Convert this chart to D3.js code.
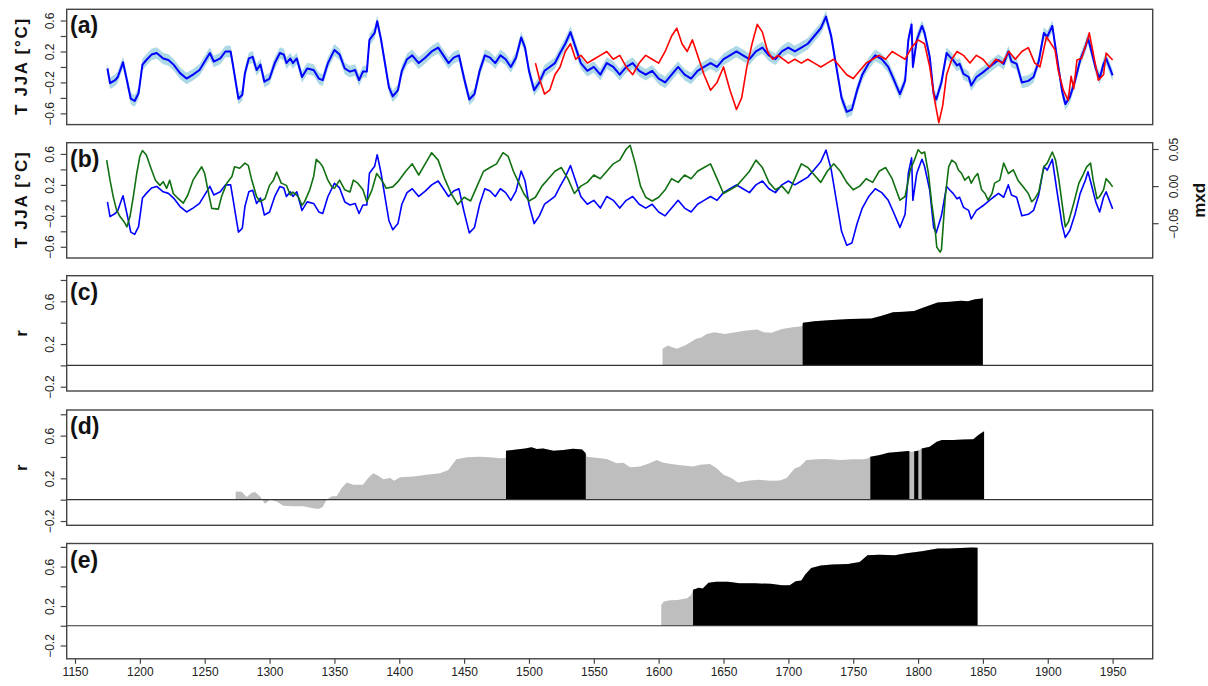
<!DOCTYPE html>
<html>
<head>
<meta charset="utf-8">
<script src="https://cdn.jsdelivr.net/npm/d3@7"></script>
<style>
  body { margin: 0; background: #fff; }
  svg { display: block; }
  text { font-family: "Liberation Sans", Arial, Helvetica, sans-serif; }
</style>
</head>
<body>
<div id="chart"></div>
<script>
// ---- values ----
const yearTicks = [1150, 1200, 1250, 1300, 1350, 1400, 1450, 1500, 1550, 1600, 1650, 1700, 1750, 1800, 1850, 1900, 1950]
const tempTicks = [-0.6, -0.4, -0.2, 0, 0.2, 0.4, 0.6]
const tempLabels = [-0.6, -0.2, 0.2, 0.6]
const rTicks = [-0.2, 0, 0.2, 0.4, 0.6, 0.8]
const rLabels = [-0.2, 0.2, 0.6]
const mxdTicks = [-0.05, 0, 0.05]

// blue: reconstructed JJA temperature (same curve in a and b)
const reconT = [
  [1175,-0.02],[1177,-0.21],[1181,-0.17],[1183,-0.13],[1187,0.06],[1190,-0.17],[1193,-0.41],[1196,-0.44],[1199,-0.34],
  [1202,0.03],[1205,0.09],[1209,0.16],[1213,0.18],[1218,0.11],[1222,0.09],[1226,0.03],[1231,-0.08],[1236,-0.15],
  [1241,-0.10],[1246,-0.04],[1250,0.07],[1254,0.18],[1257,0.07],[1262,0.11],[1266,0.20],[1270,0.20],[1272,0.00],
  [1276,-0.41],[1279,-0.36],[1281,-0.08],[1284,0.11],[1287,0.13],[1290,-0.04],[1293,0.03],[1296,-0.19],[1300,-0.15],
  [1304,0.05],[1308,0.18],[1311,0.16],[1313,0.05],[1316,0.11],[1318,0.05],[1321,0.11],[1325,-0.13],[1329,-0.02],
  [1334,-0.04],[1338,-0.15],[1341,-0.17],[1345,0.05],[1350,0.22],[1354,0.16],[1358,-0.02],[1362,-0.06],[1366,-0.04],
  [1369,-0.17],[1372,-0.06],[1375,-0.06],[1377,0.35],[1381,0.44],[1383,0.59],[1386,0.35],[1392,-0.26],[1395,-0.38],
  [1399,-0.30],[1402,-0.05],[1406,0.10],[1410,0.15],[1415,0.05],[1420,0.12],[1425,0.20],[1430,0.25],[1434,0.15],
  [1438,0.05],[1442,0.12],[1446,0.15],[1450,-0.15],[1454,-0.42],[1458,-0.35],[1462,-0.05],[1466,0.15],[1470,0.12],
  [1474,0.05],[1478,0.15],[1482,0.10],[1486,0.00],[1490,0.12],[1494,0.38],[1497,0.25],[1500,-0.05],[1504,-0.30],
  [1508,-0.20],[1512,-0.05],[1516,0.00],[1520,0.05],[1524,0.18],[1528,0.30],[1532,0.45],[1536,0.25],[1540,0.05],
  [1545,-0.05],[1550,0.00],[1555,-0.10],[1560,0.05],[1565,0.00],[1570,-0.10],[1575,0.00],[1580,0.05],[1585,-0.05],
  [1590,-0.10],[1595,-0.05],[1600,-0.15],[1605,-0.20],[1610,-0.10],[1615,0.00],[1620,-0.10],[1625,-0.15],[1630,-0.05],
  [1635,0.00],[1640,0.05],[1645,0.00],[1650,0.10],[1655,0.15],[1660,0.20],[1665,0.15],[1670,0.10],[1675,0.20],
  [1680,0.25],[1685,0.15],[1690,0.10],[1695,0.20],[1700,0.25],[1705,0.20],[1710,0.25],[1715,0.30],[1720,0.40],
  [1725,0.50],[1729,0.65],[1733,0.40],[1737,0.00],[1741,-0.40],[1745,-0.58],[1749,-0.55],[1753,-0.30],[1757,-0.10],
  [1762,0.05],[1767,0.15],[1772,0.10],[1777,0.00],[1781,-0.15],[1786,-0.35],[1790,-0.18],[1792.5,0.35],[1795,0.55],
  [1796,0.00],[1799,0.35],[1803,0.53],[1805,0.44],[1809,0.13],[1812,-0.35],[1814,-0.42],[1818,-0.20],[1822,0.18],
  [1824.6,0.13],[1827,0.09],[1830,0.02],[1832,0.04],[1835,-0.09],[1839,-0.13],[1841,-0.24],[1845,-0.13],[1850,-0.07],
  [1855,0.00],[1858,0.04],[1862,0.09],[1866,0.04],[1869.6,0.20],[1872,0.07],[1876,0.04],[1880,-0.20],[1885,-0.18],
  [1889,-0.13],[1893,0.07],[1897,0.44],[1899.6,0.39],[1903.5,0.53],[1907,0.13],[1911,-0.31],[1913.5,-0.48],[1917,-0.39],
  [1921,-0.18],[1925,0.09],[1929,0.26],[1931,0.37],[1934,0.18],[1937,-0.02],[1940,-0.15],[1943,0.04],[1945,0.11],
  [1950,-0.11]
]
const reconBand = 0.075   // half width of the light blue band

// red: second temperature record in (a)
const instrT = [
  [1505,0.05],[1508,-0.15],[1512,-0.35],[1516,-0.30],[1520,-0.10],[1524,0.00],[1528,0.20],[1532,0.30],[1536,0.10],
  [1540,0.15],[1545,0.05],[1550,0.10],[1555,0.15],[1560,0.20],[1565,0.10],[1570,0.15],[1575,0.00],[1580,-0.10],
  [1585,0.05],[1590,0.15],[1595,0.10],[1600,0.05],[1605,0.20],[1610,0.40],[1614,0.50],[1618,0.30],[1622,0.20],
  [1626,0.35],[1630,0.15],[1635,-0.10],[1640,-0.30],[1645,-0.20],[1650,0.00],[1655,-0.30],[1660,-0.55],[1664,-0.40],
  [1668,0.00],[1672,0.30],[1676,0.55],[1680,0.45],[1684,0.20],[1688,0.10],[1692,0.15],[1696,0.10],[1700,0.05],
  [1705,0.10],[1710,0.05],[1715,0.10],[1720,0.05],[1725,0.00],[1730,0.05],[1735,0.10],[1740,0.00],[1745,-0.10],
  [1750,-0.15],[1755,-0.05],[1760,0.05],[1765,0.10],[1770,0.15],[1775,0.10],[1780,0.20],[1785,0.15],[1790,0.10],
  [1795,0.25],[1800,0.35],[1805,0.30],[1809,0.00],[1813,-0.45],[1816,-0.72],[1819,-0.50],[1822,-0.10],[1826,0.10],
  [1830,0.20],[1835,0.15],[1840,0.05],[1845,0.15],[1850,0.10],[1855,0.00],[1860,0.10],[1865,0.05],[1870,0.20],
  [1875,0.10],[1880,0.20],[1885,0.25],[1890,0.05],[1894,0.00],[1899,0.39],[1905.6,0.22],[1908,-0.04],[1912,-0.30],
  [1915.7,-0.43],[1918,-0.12],[1920,-0.28],[1922.5,0.09],[1926,0.11],[1931,0.37],[1932,0.44],[1935,0.18],[1939,-0.17],
  [1943,-0.10],[1945,0.18],[1950,0.09]
]

// green: mxd, right axis of (b)
const mxd = [
  [1174.4,0.035],[1177,0.008],[1179.5,-0.0145],[1182,-0.032],[1184.7,-0.041],[1187.8,-0.048],[1190,-0.055],[1192.4,-0.041],
  [1195,-0.014],[1197.6,0.017],[1200,0.040],[1202,0.048],[1205,0.042],[1209,0.022],[1212,0.008],[1215.5,0.001],
  [1218,0.006],[1220.7,-0.003],[1223,0.008],[1225.8,-0.010],[1229.6,-0.017],[1233.5,-0.023],[1237,-0.012],[1241,0.008],
  [1245,0.019],[1247.7,0.026],[1250,0.017],[1252.8,-0.008],[1255.4,-0.030],[1260.5,-0.031],[1263,-0.014],[1267,0.004],
  [1271,0.013],[1273,0.026],[1277,0.024],[1281,0.031],[1283.6,0.028],[1286,0.010],[1290,-0.014],[1292.6,-0.021],
  [1296.5,-0.017],[1300,0.001],[1303,0.008],[1305.5,0.019],[1309,0.004],[1313,0.001],[1316,-0.012],[1318,-0.008],
  [1322,-0.014],[1325,-0.026],[1327,-0.021],[1331,-0.005],[1334,0.013],[1336,0.036],[1339,0.031],[1341,0.026],
  [1345,0.008],[1348,-0.001],[1350,-0.003],[1354,0.008],[1358,-0.005],[1362,-0.008],[1364.6,0.008],[1368,0.004],
  [1372,-0.005],[1375,-0.021],[1379,-0.005],[1382.6,0.017],[1386.5,0.008],[1390,-0.003],[1395,-0.001],[1399,0.006],
  [1405,0.020],[1410,0.030],[1415,0.015],[1420,0.030],[1425,0.045],[1430,0.035],[1435,0.010],[1440,-0.010],
  [1445,-0.025],[1450,-0.015],[1455,-0.020],[1460,0.000],[1465,0.020],[1470,0.025],[1475,0.030],[1480,0.045],
  [1484,0.040],[1488,0.020],[1492,0.005],[1496,-0.010],[1500,-0.020],[1505,-0.015],[1510,0.000],[1515,0.010],
  [1520,0.020],[1525,0.025],[1530,0.010],[1535,-0.010],[1540,0.000],[1545,0.005],[1550,0.015],[1555,0.010],
  [1560,0.020],[1565,0.030],[1570,0.035],[1575,0.050],[1578,0.055],[1582,0.030],[1586,0.000],[1590,-0.015],
  [1595,-0.020],[1600,-0.015],[1605,-0.005],[1610,0.010],[1615,0.005],[1620,0.015],[1625,0.010],[1630,0.020],
  [1635,0.025],[1640,0.030],[1645,0.010],[1650,-0.010],[1655,-0.005],[1660,0.000],[1665,0.010],[1670,0.020],
  [1675,0.035],[1680,0.025],[1685,0.005],[1690,-0.005],[1695,0.000],[1700,-0.010],[1705,0.010],[1710,0.030],
  [1715,0.025],[1720,0.015],[1725,0.005],[1730,0.020],[1735,0.030],[1740,0.020],[1745,0.005],[1750,-0.005],
  [1755,0.000],[1760,0.010],[1765,0.005],[1770,0.020],[1775,0.025],[1780,0.010],[1786,-0.019],[1790,-0.014],
  [1794,0.022],[1797.6,0.037],[1800,0.049],[1802.8,0.044],[1805,0.046],[1808,0.017],[1810.5,-0.023],[1813,-0.055],
  [1814.4,-0.082],[1817,-0.089],[1818,-0.086],[1821,-0.014],[1823.6,0.026],[1826,0.035],[1829,0.031],[1831,0.022],
  [1833.6,0.017],[1836,0.008],[1839,0.013],[1841,0.004],[1844,0.013],[1846,0.017],[1849,-0.005],[1851.6,-0.010],
  [1854,-0.019],[1857,-0.010],[1859,0.004],[1863,0.008],[1866,0.031],[1869.6,0.017],[1873.4,0.022],[1877,0.008],
  [1881,-0.001],[1885,-0.010],[1887.6,-0.021],[1890,-0.017],[1893,-0.008],[1897,0.026],[1899.6,0.031],[1903.5,0.046],
  [1906,0.035],[1908.6,0.008],[1911,-0.023],[1913.5,-0.055],[1916,-0.048],[1920,-0.023],[1924,0.004],[1926.6,0.013],
  [1930,0.026],[1933,0.031],[1935,0.008],[1938,-0.017],[1940,-0.014],[1943,-0.005],[1945,0.010],[1948,0.004],
  [1950,-0.001]
]

// correlation r, panels c d e; sig* = year spans drawn black
const corrC = [
  [1603,0.155],[1607,0.186],[1614,0.155],[1621,0.19],[1629,0.25],[1633,0.26],[1637,0.295],[1643,0.31],[1651,0.295],
  [1659,0.31],[1668,0.326],[1676,0.335],[1681,0.31],[1687,0.305],[1695,0.34],[1703.5,0.357],[1710.4,0.366],
  [1711.2,0.40],[1720,0.413],[1733.7,0.425],[1747.5,0.434],[1764,0.44],[1772,0.465],[1780.6,0.497],[1789,0.502],
  [1797,0.51],[1802.6,0.534],[1808,0.558],[1815,0.59],[1824.6,0.595],[1833,0.605],[1838.4,0.60],[1844,0.62],
  [1849.3,0.627],[1850,0.63]
]
const sigC = [[1711, 1850]]

const corrD = [
  [1273.9,0.077],[1278.5,0.074],[1282.4,0.025],[1286,0.062],[1288.8,0.071],[1292.6,0.031],[1296.5,-0.037],[1300.3,0],
  [1305.5,-0.016],[1310.6,-0.056],[1318,-0.062],[1326,-0.062],[1332.5,-0.077],[1337.6,-0.087],[1341,-0.068],[1344,0],
  [1348,0.031],[1351.8,0.031],[1355.6,0.109],[1359.5,0.161],[1364.6,0.14],[1372,0.14],[1376,0.202],[1380,0.248],
  [1383.8,0.223],[1387.7,0.192],[1393,0.202],[1396,0.177],[1400.6,0.211],[1411,0.217],[1421,0.233],[1431.4,0.248],
  [1437.8,0.279],[1444,0.378],[1452,0.397],[1462,0.403],[1470,0.397],[1477.7,0.388],[1482,0.39],[1482.3,0.459],
  [1490.5,0.471],[1497,0.48],[1502,0.49],[1506,0.474],[1511,0.48],[1519,0.459],[1526.5,0.465],[1534,0.477],
  [1541,0.471],[1543.8,0.434],[1544.6,0.403],[1555,0.388],[1560,0.381],[1567.7,0.341],[1572.8,0.347],[1578,0.304],
  [1585.6,0.31],[1593,0.341],[1598.5,0.372],[1603.6,0.347],[1611,0.332],[1619,0.319],[1626.7,0.31],[1632,0.326],
  [1639.6,0.335],[1644.7,0.295],[1650,0.233],[1656,0.202],[1661,0.161],[1670,0.18],[1678,0.186],[1686,0.177],
  [1693.6,0.18],[1698.7,0.202],[1705,0.295],[1709,0.31],[1714,0.372],[1721.8,0.378],[1729.5,0.381],[1739.8,0.372],
  [1750,0.378],[1758,0.378],[1761.7,0.388],[1763.2,0.403],[1770.6,0.419],[1777,0.44],[1786,0.45],[1792.5,0.456],
  [1795,0.45],[1800,0.458],[1802.8,0.48],[1809,0.496],[1814.4,0.543],[1818.4,0.558],[1827,0.558],[1835,0.564],
  [1842.6,0.567],[1846.5,0.605],[1850.3,0.636],[1851,0.64]
]
const sigD = [[1482.3, 1543.8], [1763.2, 1793.3], [1797, 1800.2], [1802.8, 1851]]

const corrE = [
  [1602,0.21],[1604,0.245],[1608.6,0.258],[1614.5,0.262],[1622,0.28],[1625,0.313],[1626.5,0.364],[1631,0.385],
  [1634,0.377],[1638.4,0.436],[1644.4,0.446],[1653.4,0.446],[1662.3,0.43],[1674.3,0.43],[1686.3,0.425],[1695,0.41],
  [1701,0.41],[1705.6,0.45],[1710,0.46],[1713,0.52],[1717.6,0.586],[1725,0.61],[1734,0.62],[1746,0.625],[1755,0.646],
  [1761,0.714],[1770,0.72],[1782,0.714],[1791,0.735],[1803,0.755],[1815,0.783],[1824,0.783],[1833,0.789],
  [1841.6,0.793],[1846,0.79]
]
const sigE = [[1626.5, 1846]]

// ---- layout ----
const W = 1208, H = 686
const left = 66.7, right = 1152.7
const panelTop = [9.3, 142.7, 275.7, 410, 543.5]
const panelH = 115.3
const BLUE = '#0000ff', LIGHTBLUE = '#add8e6', RED = '#ff0000', GREEN = '#117011', GREY = '#bebebe'
const FRAME = '#444'

const svg = d3.select('#chart').append('svg').attr('width', W).attr('height', H)

const x = d3.scaleLinear().domain([1143.6, 1980.9]).range([left, right])
const yFor = (i, domain) => d3.scaleLinear().domain(domain).range([panelTop[i] + panelH, panelTop[i]])

const yA = yFor(0, [-0.745, 0.745])
const yB = yFor(1, [-0.745, 0.745])
const yMxd = yFor(1, [-0.0969, 0.0585])
const yC = yFor(2, [-0.24, 0.84])
const yD = yFor(3, [-0.24, 0.84])
const yE = yFor(4, [-0.335, 0.834])

const fmt = d3.format('.1f')

function leftAxis(y, ticks, labels) {
  const g = svg.append('g')
    .attr('transform', `translate(${left},0)`)
    .call(d3.axisLeft(y).tickValues(ticks).tickSize(6).tickFormat(d => labels.some(l => Math.abs(l - d) < 1e-9) ? fmt(d) : ''))
  g.select('.domain').remove()
  g.selectAll('line').attr('stroke', FRAME).attr('stroke-width', 1.2)
  g.selectAll('text')
    .attr('x', null).attr('dy', null)
    .attr('text-anchor', 'middle')
    .attr('transform', 'translate(-12.5,0) rotate(-90)')
    .attr('font-size', 12).attr('fill', '#222')
}

function frame(i) {
  svg.append('rect')
    .attr('x', left).attr('y', panelTop[i])
    .attr('width', right - left).attr('height', panelH)
    .attr('fill', 'none').attr('stroke', FRAME).attr('stroke-width', 1.4)
}

function panelLabel(i, txt) {
  svg.append('text')
    .attr('x', 70).attr('y', panelTop[i] + 24)
    .attr('font-size', 23).attr('font-weight', 'bold').attr('fill', '#111')
    .text(txt)
}

function sideTitle(i, txt, len) {
  const cy = panelTop[i] + panelH / 2
  const t = svg.append('text')
    .attr('transform', `translate(26.7,${cy}) rotate(-90)`)
    .attr('text-anchor', 'middle')
    .attr('font-size', 17).attr('font-weight', 'bold').attr('fill', '#111')
    .text(txt)
  if (len) t.attr('textLength', len).attr('lengthAdjust', 'spacing')
}

const lineOf = y => d3.line().x(d => x(d[0])).y(d => y(d[1]))

// (a)
svg.append('path')
  .datum(reconT)
  .attr('fill', LIGHTBLUE)
  .attr('d', d3.area().x(d => x(d[0])).y0(d => yA(d[1] - reconBand)).y1(d => yA(d[1] + reconBand)))
svg.append('path').datum(reconT)
  .attr('fill', 'none').attr('stroke', BLUE).attr('stroke-width', 2).attr('stroke-linejoin', 'round')
  .attr('d', lineOf(yA))
svg.append('path').datum(instrT)
  .attr('fill', 'none').attr('stroke', RED).attr('stroke-width', 1.6).attr('stroke-linejoin', 'round')
  .attr('d', lineOf(yA))

// (b)
svg.append('path').datum(reconT)
  .attr('fill', 'none').attr('stroke', BLUE).attr('stroke-width', 1.6).attr('stroke-linejoin', 'round')
  .attr('d', lineOf(yB))
svg.append('path').datum(mxd)
  .attr('fill', 'none').attr('stroke', GREEN).attr('stroke-width', 1.6).attr('stroke-linejoin', 'round')
  .attr('d', lineOf(yMxd))

// (c)-(e): correlation areas, grey everywhere, black where significant
const defs = svg.append('defs')
function corrPanel(i, y, data, sig, id) {
  const area = d3.area().x(d => x(d[0])).y0(y(0)).y1(d => y(d[1]))
  svg.append('path').datum(data).attr('fill', GREY).attr('d', area)
  const clip = defs.append('clipPath').attr('id', id)
  clip.selectAll('rect').data(sig).join('rect')
    .attr('x', d => x(d[0])).attr('width', d => x(d[1]) - x(d[0]))
    .attr('y', panelTop[i]).attr('height', panelH)
  svg.append('path').datum(data).attr('fill', '#000').attr('clip-path', `url(#${id})`).attr('d', area)
  svg.append('line')
    .attr('x1', left).attr('x2', right).attr('y1', y(0)).attr('y2', y(0))
    .attr('stroke', '#333').attr('stroke-width', 1.2)
}
corrPanel(2, yC, corrC, sigC, 'sigc')
corrPanel(3, yD, corrD, sigD, 'sigd')
corrPanel(4, yE, corrE, sigE, 'sige')

// frames, axes, labels
;[0, 1, 2, 3, 4].forEach(frame)
leftAxis(yA, tempTicks, tempLabels)
leftAxis(yB, tempTicks, tempLabels)
leftAxis(yC, rTicks, rLabels)
leftAxis(yD, rTicks, rLabels)
leftAxis(yE, rTicks, rLabels)

// right axis of (b)
const gr = svg.append('g')
  .attr('transform', `translate(${right},0)`)
  .call(d3.axisRight(yMxd).tickValues(mxdTicks).tickSize(6).tickFormat(d3.format('.2f')))
gr.select('.domain').remove()
gr.selectAll('line').attr('stroke', FRAME).attr('stroke-width', 1.2)
gr.selectAll('text')
  .attr('x', null).attr('dy', null)
  .attr('text-anchor', 'middle')
  .attr('transform', 'translate(24.8,0) rotate(-90)')
  .attr('font-size', 12).attr('fill', '#222')

svg.append('text')
  .attr('transform', `translate(1204.5,${panelTop[1] + panelH / 2}) rotate(-90)`)
  .attr('text-anchor', 'middle')
  .attr('font-size', 17).attr('font-weight', 'bold').attr('fill', '#111')
  .text('mxd')

// bottom year axis
const gx = svg.append('g')
  .attr('transform', `translate(0,${panelTop[4] + panelH})`)
  .call(d3.axisBottom(x).tickValues(yearTicks).tickSize(5).tickPadding(4).tickFormat(d3.format('d')))
gx.select('.domain').remove()
gx.selectAll('line').attr('stroke', FRAME).attr('stroke-width', 1.2)
gx.selectAll('text').attr('font-size', 12).attr('fill', '#222')

sideTitle(0, 'T JJA [°C]', 96)
sideTitle(1, 'T JJA [°C]', 96)
sideTitle(2, 'r')
sideTitle(3, 'r')

;['(a)', '(b)', '(c)', '(d)', '(e)'].forEach((t, i) => panelLabel(i, t))
</script>
</body>
</html>
